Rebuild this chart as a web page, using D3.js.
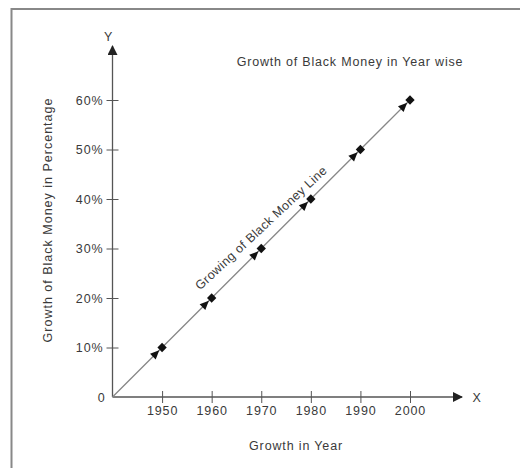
<!DOCTYPE html>
<html><head><meta charset="utf-8">
<script src="https://cdn.jsdelivr.net/npm/d3@7"></script>
<style>body{margin:0;background:#fff}svg{display:block}text{font-family:"Liberation Sans",Arial,sans-serif;fill:#3a3a3a}</style>
</head><body>
<svg id="c" width="520" height="468"></svg>
<script>
const years = [1950, 1960, 1970, 1980, 1990, 2000];
const values = [10, 20, 30, 40, 50, 60];
const yTicks = [10, 20, 30, 40, 50, 60];
const yTickLabels = ["10%", "20%", "30%", "40%", "50%", "60%"];
const title = "Growth of Black Money in Year wise";
const lineLabel = "Growing of Black Money Line";
const xTitle = "Growth in Year";
const yTitle = "Growth of Black Money in Percentage";

const FS = 12.5;
const svg = d3.select("#c");
// frame
svg.append("line").attr("x1",11).attr("y1",9).attr("x2",520).attr("y2",9).attr("stroke","#888").attr("stroke-width",2);
svg.append("line").attr("x1",11.5).attr("y1",8).attr("x2",11.5).attr("y2",468).attr("stroke","#888").attr("stroke-width",2);

const x = d3.scaleLinear().domain([1940, 2000]).range([112.5, 410]);
const y = d3.scaleLinear().domain([0, 60]).range([397, 100]);
const ox = x(1940), oy = y(0);

const defs = svg.append("defs");
defs.append("marker").attr("id","arr").attr("viewBox","0 0 10 10").attr("refX",9).attr("refY",5)
  .attr("markerWidth",10).attr("markerHeight",10).attr("markerUnits","userSpaceOnUse").attr("orient","auto")
  .append("path").attr("d","M0,0L10,5L0,10Z").attr("fill","#222");

// axes
svg.append("line").attr("x1",ox).attr("y1",oy).attr("x2",462).attr("y2",oy).attr("stroke","#555").attr("stroke-width",1.3).attr("marker-end","url(#arr)");
svg.append("line").attr("x1",ox).attr("y1",oy).attr("x2",ox).attr("y2",46).attr("stroke","#555").attr("stroke-width",1.3).attr("marker-end","url(#arr)");

const styleText = sel => sel.attr("font-size",FS).attr("fill","#3a3a3a").attr("letter-spacing",0.9)
  .attr("font-family","Liberation Sans, Arial, sans-serif");

const xAxis = d3.axisBottom(x).tickValues(years).tickFormat(d3.format("d")).tickSizeInner(6).tickSizeOuter(0).tickPadding(3);
const gx = svg.append("g").attr("transform",`translate(0,${oy})`).call(xAxis);
gx.select(".domain").remove();
gx.selectAll(".tick line").attr("y1",-6).attr("stroke","#555");
gx.selectAll(".tick text").call(styleText);

const yAxis = d3.axisLeft(y).tickValues(yTicks).tickFormat((d,i)=>yTickLabels[i]).tickSizeInner(6).tickSizeOuter(0).tickPadding(3);
const gy = svg.append("g").attr("transform",`translate(${ox},0)`).call(yAxis);
gy.select(".domain").remove();
gy.selectAll(".tick line").attr("x1",6).attr("stroke","#555");
gy.selectAll(".tick text").call(styleText);

svg.append("text").attr("x",ox-7).attr("y",oy+5).attr("text-anchor","end").call(styleText).text("0");
svg.append("text").attr("x",ox-4).attr("y",41).attr("text-anchor","middle").call(styleText).text("Y");
svg.append("text").attr("x",477).attr("y",oy+5).attr("text-anchor","middle").call(styleText).text("X");

// growth line
const pts = [[1940,0]].concat(years.map((yr,i)=>[yr,values[i]]));
svg.append("path").datum(pts).attr("d", d3.line().x(d=>x(d[0])).y(d=>y(d[1])))
  .attr("fill","none").attr("stroke","#888").attr("stroke-width",1.3);

// markers
const ang = Math.atan2(y(60)-y(0), x(2000)-x(1940));
years.forEach((yr,i)=>{
  const px = x(yr), py = y(values[i]);
  svg.append("rect").attr("x",-3.3).attr("y",-3.3).attr("width",6.6).attr("height",6.6)
    .attr("transform",`translate(${px},${py}) rotate(45)`).attr("fill","#111");
  const tx = px - 9*Math.cos(ang), ty = py - 9*Math.sin(ang);
  svg.append("path").attr("d","M5,0L-4,-4L-4,4Z").attr("fill","#111")
    .attr("transform",`translate(${tx},${ty}) rotate(${ang*180/Math.PI})`);
});

// texts
svg.append("text").attr("x",350).attr("y",66).attr("text-anchor","middle").call(styleText).attr("letter-spacing",0.8).text(title);
svg.append("text").attr("transform",`translate(264,231) rotate(-43)`).attr("text-anchor","middle").call(styleText).attr("letter-spacing",0.45).text(lineLabel);
svg.append("text").attr("x",296).attr("y",450).attr("text-anchor","middle").call(styleText).attr("letter-spacing",0.85).text(xTitle);
svg.append("text").attr("transform","translate(52,220) rotate(-90)").attr("text-anchor","middle").call(styleText).attr("letter-spacing",1.0).text(yTitle);
</script>
</body></html>
